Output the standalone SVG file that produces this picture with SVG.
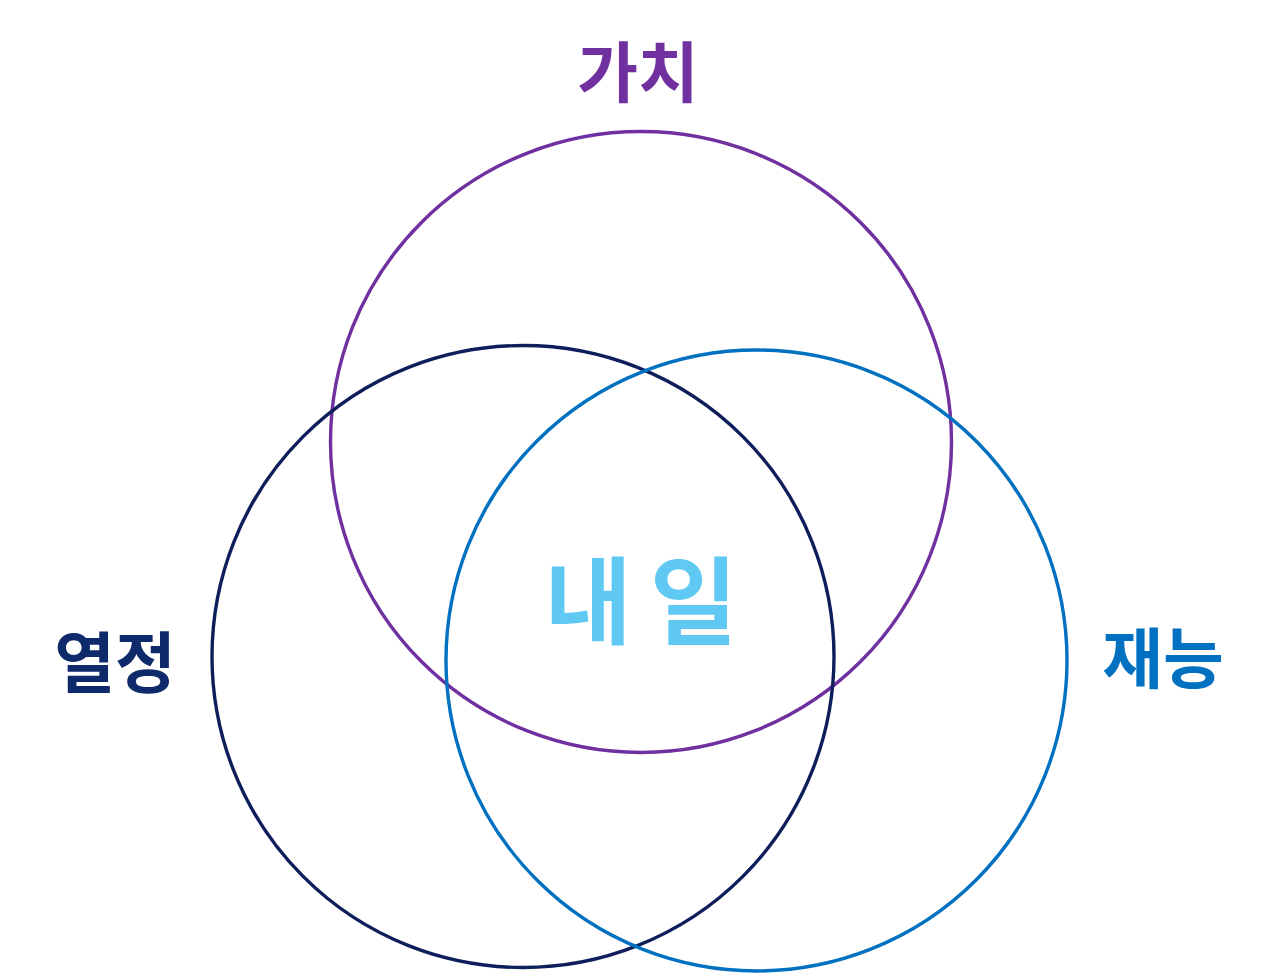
<svg xmlns="http://www.w3.org/2000/svg" width="1280" height="974" viewBox="0 0 1280 974">
<style>
.c{fill:none;stroke-width:3.4}
.t{font-family:"Noto Sans CJK KR","Noto Sans CJK SC",sans-serif;font-weight:700;text-anchor:middle}
</style>
<rect width="1280" height="974" fill="#ffffff"/>
<g id="circles">
<circle id="c-value" class="c" cx="641" cy="442" r="310.5" stroke="#7030A0"/>
<circle id="c-passion" class="c" cx="523" cy="656.5" r="311" stroke="#0E1E5B"/>
<circle id="c-talent" class="c" cx="756.5" cy="660.5" r="310.5" stroke="#0070C0"/>
</g>
<g id="label-value"><text class="t" x="638" y="97" font-size="66" fill="#7030A0">가치</text></g>
<g id="label-passion"><text class="t" x="115" y="687" font-size="66" fill="#0E2A6B">열정</text></g>
<g id="label-talent"><text class="t" x="1163" y="683" font-size="66" fill="#0070C0">재능</text></g>
<g id="label-center"><text class="t" x="650" y="637" font-size="95" letter-spacing="18" fill="#5FC9F3">내일</text></g>
</svg>
